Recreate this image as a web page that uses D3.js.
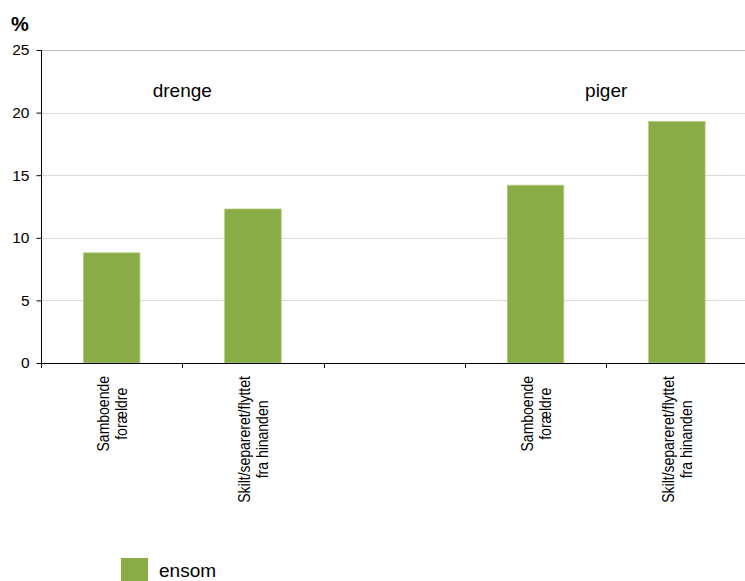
<!DOCTYPE html>
<html>
<head>
<meta charset="utf-8">
<script src="https://cdn.jsdelivr.net/npm/d3@7"></script>
<style>
  html, body { margin: 0; padding: 0; background: #fff; }
  svg { display: block; font-family: "Liberation Sans", Arial, sans-serif; }
</style>
</head>
<body>
<svg id="chart" width="745" height="581"></svg>
<script>
// ---- data ----
const categories = ["c1", "c2", "gap", "c4", "c5"];
const categoryLabels = [
  ["Samboende", "forældre"],
  ["Skilt/separeret/flyttet", "fra hinanden"],
  [],
  ["Samboende", "forældre"],
  ["Skilt/separeret/flyttet", "fra hinanden"]
];
const values = [8.8, 12.3, null, 14.2, 19.3];
const groupLabels = ["drenge", "piger"];
const groupLabelAt = [1, 4];   // category boundary index where group label is centred
const yTicks = [0, 5, 10, 15, 20, 25];
const seriesName = "ensom";

// ---- layout ----
const svg = d3.select("#chart");
const mLeft = 41, mRight = 747.5, mTop = 50, mBottom = 363;
const barColor = "#8aac46";

const x = d3.scaleBand().domain(categories).range([mLeft, mRight]).paddingInner(0).paddingOuter(0);
const y = d3.scaleLinear().domain([0, 25]).range([mBottom, mTop]);

// gridlines
svg.append("g").selectAll("line")
  .data(yTicks.filter(d => d > 0))
  .join("line")
  .attr("x1", mLeft).attr("x2", 745)
  .attr("y1", d => Math.round(y(d)) + 0.5).attr("y2", d => Math.round(y(d)) + 0.5)
  .attr("stroke", d => d === 25 ? "#bdbdbd" : "#dadada")
  .attr("stroke-width", 1);

// bars
const barW = x.bandwidth() * 0.4;
svg.append("g").selectAll("rect")
  .data(values.map((v, i) => ({ v, c: categories[i] })).filter(d => d.v != null))
  .join("rect")
  .attr("x", d => x(d.c) + x.bandwidth() / 2 - barW / 2)
  .attr("width", barW)
  .attr("y", d => y(d.v))
  .attr("height", d => y(0) - y(d.v))
  .attr("fill", barColor)
  .attr("stroke", "#b3cb80")
  .attr("stroke-width", 0.8);

// y axis
const yAxis = d3.axisLeft(y).tickValues(yTicks).tickSize(5).tickPadding(7).tickFormat(d3.format("d"));
const gy = svg.append("g").attr("transform", `translate(${mLeft + 0.5},0)`).call(yAxis);
gy.select(".domain").attr("d", `M0,${mTop}V${mBottom + 5}`).attr("stroke", "#000");
gy.selectAll(".tick line").attr("stroke", "#000");
gy.selectAll(".tick text").attr("font-size", 15.5).attr("fill", "#000")
  .attr("font-family", "'Liberation Sans', Arial, sans-serif");

// x axis baseline
svg.append("line")
  .attr("x1", mLeft).attr("x2", 745)
  .attr("y1", mBottom + 0.5).attr("y2", mBottom + 0.5)
  .attr("stroke", "#000").attr("stroke-width", 1.2);

// x ticks at band boundaries
const boundaries = categories.map(c => x(c)).concat([mRight]);
svg.append("g").selectAll("line")
  .data(boundaries)
  .join("line")
  .attr("x1", d => Math.round(d) + 0.5).attr("x2", d => Math.round(d) + 0.5)
  .attr("y1", mBottom).attr("y2", mBottom + 5)
  .attr("stroke", "#000");

// category labels (rotated, two lines, condensed, block top at ~376)
const labelTop = 376;
const lineOffsets = [-2.5, 15];
const squeeze = 0.875;
categories.forEach((c, i) => {
  const lines = categoryLabels[i];
  if (!lines.length) return;
  const cx = x(c) + x.bandwidth() / 2;
  const texts = lines.map((t, j) => svg.append("text")
    .attr("font-size", 16)
    .attr("fill", "#000")
    .attr("text-anchor", "middle")
    .text(t));
  const maxLen = d3.max(texts, t => t.node().getComputedTextLength()) * squeeze;
  const cy = labelTop + maxLen / 2;
  texts.forEach((t, j) => {
    t.attr("transform", `translate(${cx + lineOffsets[j]},${cy}) rotate(-90) scale(${squeeze},1)`);
  });
});

// group labels
groupLabels.forEach((g, i) => {
  const bx = boundaries[groupLabelAt[i]];
  svg.append("text")
    .attr("x", bx)
    .attr("y", 97)
    .attr("text-anchor", "middle")
    .attr("font-size", 19)
    .attr("fill", "#000")
    .text(g);
});

// unit label
svg.append("text")
  .attr("x", 11).attr("y", 31)
  .attr("font-size", 20).attr("font-weight", "bold")
  .attr("fill", "#000")
  .text("%");

// legend
svg.append("rect")
  .attr("x", 121).attr("y", 558).attr("width", 27).attr("height", 27)
  .attr("fill", barColor);
svg.append("text")
  .attr("x", 159).attr("y", 577)
  .attr("font-size", 19).attr("fill", "#000")
  .text(seriesName);
</script>
</body>
</html>
